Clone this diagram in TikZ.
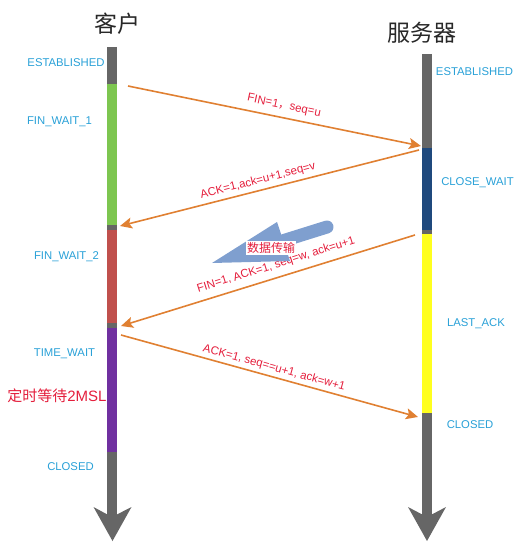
\documentclass[tikz,border=0pt]{standalone}
\usepackage{fontspec}
\setmainfont{Liberation Sans}
\newfontfamily\cjk{Noto Sans CJK SC}
\usetikzlibrary{arrows.meta}
\definecolor{lblue}{RGB}{40,160,215}
\definecolor{msgred}{RGB}{228,30,60}
\definecolor{arrorange}{RGB}{224,128,50}
\definecolor{bgray}{RGB}{102,102,102}
\definecolor{bgreen}{RGB}{125,198,80}
\definecolor{bred}{RGB}{192,80,77}
\definecolor{bpurple}{RGB}{112,48,160}
\definecolor{bdblue}{RGB}{31,73,125}
\definecolor{byellow}{RGB}{255,255,30}
\definecolor{fatblue}{RGB}{127,159,207}
\definecolor{titlegray}{RGB}{40,40,40}
\begin{document}
\begin{tikzpicture}[x=1pt,y=-1pt]
\useasboundingbox (0,0) rectangle (521,556);
\tikzset{
  state/.style={text=lblue, font=\fontsize{11.3}{13}\selectfont, inner sep=0pt},
  msg/.style={text=msgred, font=\fontsize{11.5}{13}\selectfont, inner sep=0pt},
  title/.style={text=titlegray, font=\cjk\fontsize{23}{26}\selectfont, inner sep=0pt},
  bar/.style={line width=10pt},
  conn/.style={draw=arrorange, line width=1.6pt, -{Stealth[length=12pt,width=11pt,inset=2.5pt]}},
}
% titles
\node[title] (tc) at (117,24) {客户};
\node[title] (ts) at (422,33) {服务器};

% client bar
\coordinate (c0) at (112,47);
\coordinate (c1) at (112,84);
\coordinate (c2) at (112,225);
\coordinate (c3) at (112,230);
\coordinate (c4) at (112,323);
\coordinate (c5) at (112,328);
\coordinate (c6) at (112,452);
\coordinate (c7) at (112,517);
\draw[bar, bgray] (c0) -- (c1);
\draw[bar, bgreen] (c1) -- (c2);
\draw[bar, bgray] (c2) -- (c3);
\draw[bar, bred] (c3) -- (c4);
\draw[bar, bgray] (c4) -- (c5);
\draw[bar, bpurple] (c5) -- (c6);
\draw[bar, bgray] (c6) -- (c7);
\fill[bgray] (93.5,507) -- (c7) -- (131.5,507) -- (112.5,541) -- cycle;

% server bar
\coordinate (s0) at (427,54);
\coordinate (s1) at (427,148);
\coordinate (s2) at (427,230);
\coordinate (s3) at (427,234);
\coordinate (s4) at (427,413);
\coordinate (s5) at (427,517);
\draw[bar, bgray] (s0) -- (s1);
\draw[bar, bdblue] (s1) -- (s2);
\draw[bar, bgray] (s2) -- (s3);
\draw[bar, byellow] (s3) -- (s4);
\draw[bar, bgray] (s4) -- (s5);
\fill[bgray] (408,507) -- (s5) -- (446,507) -- (427,541) -- cycle;

% state labels
\node[state] (l1) at (66,63) {ESTABLISHED};
\node[state] (l2) at (59.5,122) {FIN\_WAIT\_1};
\node[state] (l3) at (66.5,257) {FIN\_WAIT\_2};
\node[state] (l4) at (64.5,354) {TIME\_WAIT};
\node[msg, font=\fontsize{15}{17}\selectfont] (l5) at (57,396) {{\cjk 定时等待}2MSL};
\node[state] (l6) at (70.5,467) {CLOSED};
\node[state] (r1) at (474.5,72) {ESTABLISHED};
\node[state] (r2) at (477.5,183) {CLOSE\_WAIT};
\node[state] (r3) at (476,324) {LAST\_ACK};
\node[state] (r4) at (470,425) {CLOSED};

% messages
\coordinate (a1s) at (128,86);
\coordinate (a1e) at (421,146);
\coordinate (a2s) at (419,150);
\coordinate (a2e) at (120,226);
\coordinate (a3s) at (415,235);
\coordinate (a3e) at (121,326);
\coordinate (a4s) at (121,335);
\coordinate (a4e) at (418,417);
\draw[conn] (a1s) -- (a1e);
\draw[conn] (a2s) -- (a2e);
\draw[conn] (a3s) -- (a3e);
\draw[conn] (a4s) -- (a4e);
\node[msg, rotate=-11.9] (m1) at (284,106) {FIN=1{\cjk ，}seq=u};
\node[msg, rotate=14.3] (m2) at (258,181) {ACK=1,ack=u+1,seq=v};
\node[msg, rotate=17.4] (m3) at (276,265) {FIN=1, ACK=1, seq=w, ack=u+1};
\node[msg, rotate=-15.6] (m4) at (274,368) {ACK=1, seq==u+1, ack=w+1};

% data transfer fat arrow
\coordinate (fb) at (282.6,240.9);
\coordinate (ft) at (327,227);
\coordinate (fp) at (212,263);
\draw[fatblue, line width=13pt, line cap=round] (fb) -- (ft);
\fill[fatblue] (fp) -- (277,222) -- (290,261) -- cycle;
\node[msg, fill=white, font=\cjk\fontsize{12}{14}\selectfont, inner sep=1pt] (dt) at (271,248) {数据传输};
\end{tikzpicture}
\end{document}
